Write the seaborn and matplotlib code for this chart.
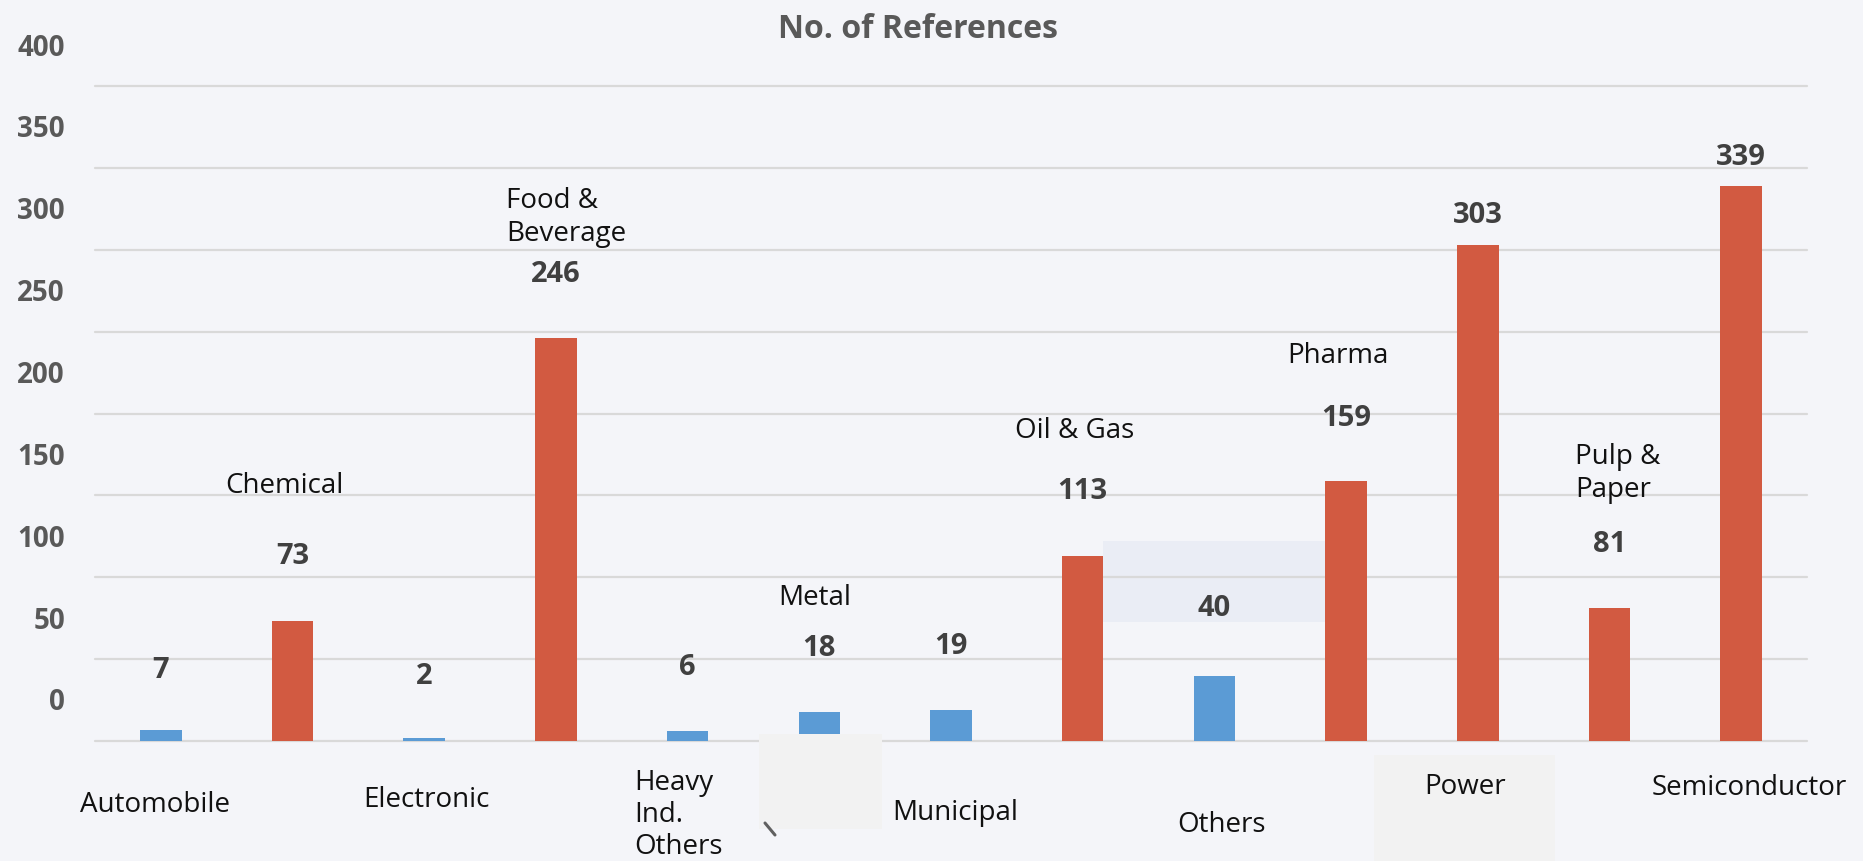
import matplotlib
matplotlib.use("Agg")
import matplotlib.pyplot as plt
from matplotlib.patches import Rectangle
from matplotlib.lines import Line2D
import seaborn as sns
import pandas as pd

# ---- data -------------------------------------------------------------
categories = ["Automobile", "Chemical", "Electronic", "Food & Beverage",
              "Heavy Ind. Others", "Metal", "Municipal", "Oil & Gas",
              "Others", "Pharma", "Power", "Pulp & Paper", "Semiconductor"]
references = [7, 73, 2, 246, 6, 18, 19, 113, 40, 159, 303, 81, 339]
display_names = ["Automobile", "Chemical", "Electronic", "Food &\nBeverage",
                 "Heavy\nInd.\nOthers", "Metal", "Municipal", "Oil & Gas",
                 "Others", "Pharma", "Power", "Pulp &\nPaper", "Semiconductor"]
y_ticks = [0, 50, 100, 150, 200, 250, 300, 350, 400]
title = "No. of References"

# ---- styling ----------------------------------------------------------
W, H, DPI = 1863, 861, 100
BG = "#F4F5F9"
BLUE = "#5B9BD5"
RED = "#D25A41"
GRID = "#D9D9D9"

sns.set_style("white")
plt.rcParams["font.family"] = ["Open Sans", "DejaVu Sans"]

# name label placement: (dx px, dy px, horizontal alignment, line spacing);
# even-indexed names sit under the axis, odd-indexed ones above the bar
name_place = [(-6, -61.5, "center", 1.24), (-8, 138.5, "center", 1.24),
              (2, -56, "center", 1.24), (-50, 124, "left", 1.24),
              (-53, -71, "left", 1.2), (-5, 116.5, "center", 1.24),
              (4, -69, "center", 1.24), (-8, 128, "center", 1.24),
              (7, -80.5, "center", 1.24), (-8, 128, "center", 1.24),
              (-13, -42.5, "center", 1.24), (-34, 138, "left", 1.24),
              (8, -44, "center", 1.24)]
# distance of the value label above the bar top, px
value_lift = [62.5, 67.5, 64, 66.5, 67, 66, 66, 67, 70.5, 65, 32, 66.7, 31.6]

bar_colors = [BLUE if v < 50 else RED for v in references]

fig = plt.figure(figsize=(W / DPI, H / DPI), dpi=DPI, facecolor=BG)
ax = fig.add_axes([95 / W, 1 - 741 / H, (1807 - 95) / W, (741 - 86) / H])
ax.set_facecolor(BG)


def fig_rect(x0, y0, x1, y1, **kw):
    """Rectangle given in figure pixels measured from the top-left corner."""
    return Rectangle((x0 / W, 1 - y1 / H), (x1 - x0) / W, (y1 - y0) / H,
                     transform=fig.transFigure, clip_on=False, linewidth=0, **kw)


df = pd.DataFrame({"category": categories, "references": references})
sns.barplot(data=df, x="category", y="references", hue="category",
            palette=bar_colors, legend=False, width=0.315, saturation=1,
            linewidth=0, ax=ax, zorder=2)

ax.set_xlim(-0.5, len(categories) - 0.5)
ax.set_ylim(0, 400)
ax.set_yticks(y_ticks)
ax.set_yticklabels([])
ax.set_xticks([])
ax.set_xlabel("")
ax.set_ylabel("")
ax.tick_params(length=0)
for s in ax.spines.values():
    s.set_visible(False)
ax.yaxis.grid(True, color=GRID, linewidth=1.6)
ax.set_axisbelow(True)
for gl in ax.get_ygridlines():
    gl.set_clip_on(False)

# y axis labels, raised above their gridlines
for t in y_ticks:
    ax.annotate(str(t), xy=(0, t), xycoords=("axes fraction", "data"),
                xytext=(-30, 38), textcoords="offset pixels",
                ha="right", va="center", fontsize=20, fontweight="bold",
                color="#595959", annotation_clip=False)

# value labels and category names
for i, (v, name) in enumerate(zip(references, display_names)):
    ax.annotate(str(v), xy=(i, v), xytext=(0, value_lift[i] - 3),
                textcoords="offset pixels", ha="center", va="center",
                fontsize=21, fontweight="bold", color="#404040",
                annotation_clip=False, zorder=4)
    dx, dy, ha, ls = name_place[i]
    base = 0 if i % 2 == 0 else v
    ax.annotate(name, xy=(i, base), xytext=(dx, dy - 3),
                textcoords="offset pixels", ha=ha, va="center",
                fontsize=20, color="#111111", linespacing=ls,
                annotation_clip=False, zorder=4)

# shaded panels
ax.add_patch(fig_rect(1103, 541, 1325, 622, facecolor="#EAEDF5", zorder=0.3))
ax.add_patch(fig_rect(759, 734, 882, 829, facecolor="#F2F2F2", zorder=3))
ax.add_patch(fig_rect(1374, 755, 1555, 861, facecolor="#F2F2F2", zorder=3))
ax.add_line(Line2D([765 / W, 775 / W], [1 - 823 / H, 1 - 835 / H],
                   transform=fig.transFigure, color="#606060",
                   linewidth=2.2, clip_on=False, zorder=3.5))

fig.text(918 / W, 1 - 29 / H, title, ha="center", va="center",
         fontsize=23, fontweight="bold", color="#595959")

fig.savefig("out.png", dpi=DPI, facecolor=BG)
